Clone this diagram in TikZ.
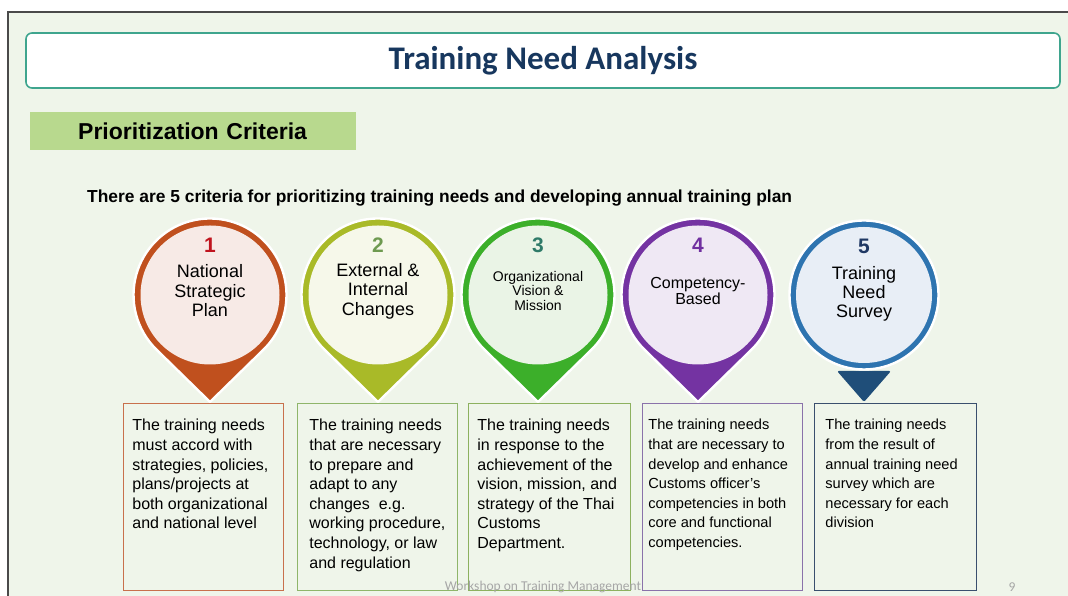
\documentclass[tikz,border=0pt]{standalone}
\usepackage{fontspec}
\setmainfont{Liberation Sans}
\newfontfamily\carlito{Carlito}
\usetikzlibrary{positioning,calc}
\definecolor{slidebg}{HTML}{EFF5EA}
\definecolor{frameline}{HTML}{4A4A4A}
\definecolor{titleteal}{HTML}{3FA58E}
\definecolor{titlenavy}{HTML}{17375E}
\definecolor{headgreen}{HTML}{B8D98E}
\definecolor{footgray}{HTML}{A6A6A6}
\definecolor{onering}{HTML}{C0501E}
\definecolor{onefill}{HTML}{F7EAE6}
\definecolor{onenum}{HTML}{C0141E}
\definecolor{onebox}{HTML}{C8704C}
\definecolor{tworing}{HTML}{A9BA28}
\definecolor{twofill}{HTML}{F6F8EA}
\definecolor{twonum}{HTML}{6E9A50}
\definecolor{twobox}{HTML}{8FB56A}
\definecolor{threering}{HTML}{3CAF2A}
\definecolor{threefill}{HTML}{EAF4E6}
\definecolor{threenum}{HTML}{2E7A68}
\definecolor{threebox}{HTML}{8DB15F}
\definecolor{fourring}{HTML}{7433A2}
\definecolor{fourfill}{HTML}{EFE8F4}
\definecolor{fournum}{HTML}{7030A0}
\definecolor{fourbox}{HTML}{8A72AA}
\definecolor{fivering}{HTML}{2E74B0}
\definecolor{fivetip}{HTML}{1F4E79}
\definecolor{fivefill}{HTML}{E8EEF6}
\definecolor{fivenum}{HTML}{1F3864}
\definecolor{fivebox}{HTML}{3A4F6E}
\newcommand{\criterionpin}[5]{
  \path[fill=#2ring, draw=white, line width=2.4pt] (#1,301) ++(-45.6:76.5pt) arc[start angle=-45.6, end angle=225.6, radius=76.5pt] -- (#1,194) -- cycle;
  \node[circle, fill=#2fill, minimum size=139pt, inner sep=0pt] (pin#3) at (#1,301) {};
  \node[font=\bfseries\fontsize{21}{21}\selectfont, text=#2num] (num#3) at ([yshift=50pt]pin#3.center) {#3};
  \node[align=center, font=#4] (lbl#3) at ([yshift=4pt]pin#3.center) {#5};
}
\newcommand{\needbox}[7]{
  \node[anchor=north west, draw=#3, line width=0.8pt, inner xsep=#4, inner ysep=16pt,
        font=\fontsize{#6}{19.6}\selectfont] (#1) at (#2,193) {\parbox[t][155pt][t]{#5}{\raggedright #7}};
}

\begin{document}
\begin{tikzpicture}[x=1pt,y=1pt]
\useasboundingbox (0,0) rectangle (1068,596);
\fill[white] (0,0) rectangle (1068,596);
\fill[slidebg] (8,0) rectangle (1068,584);
\draw[frameline, line width=1.2pt] (8,0) -- (8,584) -- (1068,584);

\node[fill=white, draw=titleteal, line width=1.6pt, rounded corners=6pt, minimum width=1034pt, minimum height=55pt,
      text=titlenavy, font=\carlito\bfseries\fontsize{33}{33}\selectfont] (title) at (543,535.5) {Training Need Analysis};
\node[anchor=north west, fill=headgreen, minimum height=38pt, text width=326pt, inner xsep=0pt, align=left,
      font=\bfseries\fontsize{23}{23}\selectfont] (criteria) at (30,484) {\hspace*{48pt}Prioritization Criteria};
\node[anchor=base west, inner sep=0pt, font=\bfseries\fontsize{17.4}{20}\selectfont] (intro) at (87,393) {There are 5 criteria for prioritizing training needs and developing annual training plan};

\criterionpin{210}{one}{1}{\fontsize{18}{19.5}\selectfont}{National\\Strategic\\Plan}
\criterionpin{378}{two}{2}{\fontsize{18}{19.5}\selectfont}{External \&\\Internal\\Changes}
\criterionpin{538}{three}{3}{\fontsize{14}{14.2}\selectfont}{Organizational\\Vision \&\\Mission}
\criterionpin{698}{four}{4}{\fontsize{16}{16.3}\selectfont}{Competency-\\Based}

\path[fill=fivetip, rounded corners=2pt] (837,225) -- (891,225) -- (864,194) -- cycle;
\node[circle, fill=fivering, draw=white, line width=2.4pt, minimum size=149pt, inner sep=0pt] (ring5) at (864,301) {};
\node[circle, fill=fivefill, minimum size=136pt, inner sep=0pt] (pin5) at (ring5.center) {};
\node[font=\bfseries\fontsize{21}{21}\selectfont, text=fivenum] (num5) at ([yshift=49pt]pin5.center) {5};
\node[align=center, font=\fontsize{18}{19}\selectfont] (lbl5) at ([yshift=1pt]pin5.center) {Training\\Need\\Survey};

\needbox{need1}{123}{onebox}{9pt}{142pt}{16}{The training needs\\must accord with\\strategies, policies,\\plans/projects at\\both organizational\\and national level}
\needbox{need2}{297}{twobox}{12pt}{136pt}{16}{The training needs\\that are necessary\\to prepare and\\adapt to any\\changes~ e.g.\\working procedure,\\technology, or law\\and regulation}
\needbox{need3}{468}{threebox}{9pt}{144pt}{16}{The training needs\\in response to the\\achievement of the\\vision, mission, and\\strategy of the Thai\\Customs\\Department.}
\needbox{need4}{642}{fourbox}{6pt}{148pt}{14.6}{The training needs\\that are necessary to\\develop and enhance\\Customs officer's\\competencies in both\\core and functional\\competencies.}
\needbox{need5}{814}{fivebox}{11pt}{140pt}{14.6}{The training needs\\from the result of\\annual training need\\survey which are\\necessary for each\\division}

\node[text=footgray, font=\carlito\fontsize{13.5}{14}\selectfont] (footer) at (543,9) {Workshop on Training Management};
\node[text=footgray, font=\carlito\fontsize{13.5}{14}\selectfont] (pagenum) at (1012,9) {9};
\end{tikzpicture}
\end{document}
